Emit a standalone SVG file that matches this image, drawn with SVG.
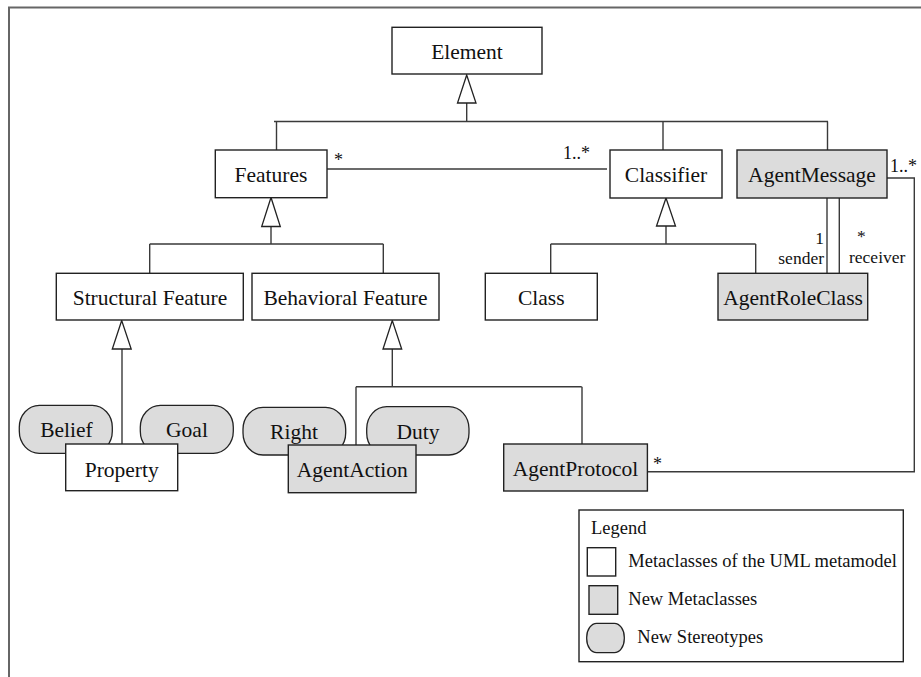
<svg xmlns="http://www.w3.org/2000/svg" width="921" height="677" viewBox="0 0 921 677">
<style>
text{font-family:"Liberation Serif","Times New Roman",serif;fill:#111}
.t{font-size:21.5px;text-anchor:middle}
.s{font-size:18px}
.r{font-size:17.5px}
.box{fill:#fff;stroke:#222;stroke-width:1.4}
.new{fill:#dcdcdc;stroke:#222;stroke-width:1.4}
.pill{fill:#dcdcdc;stroke:#222;stroke-width:1.3}
.ln{fill:none;stroke:#3a3a3a;stroke-width:1.4}
.tri{fill:#fff;stroke:#222;stroke-width:1.3}
</style>
<rect x="0" y="0" width="921" height="677" fill="#fff"/>
<path d="M9,677 V7.5 H921" fill="none" stroke="#666" stroke-width="2"/>

<g id="connectors">
  <!-- Element generalization -->
  <path class="ln" d="M466.7,103 V121.5 M274,121.5 H828 M276.5,121.5 V150 M663,121.5 V150 M827.5,121.5 V150"/>
  <polygon class="tri" points="466.7,75 457.5,103 476,103"/>
  <!-- Features - Classifier association -->
  <path class="ln" d="M327,169 H607"/>
  <text class="s" x="334" y="166">*</text>
  <text class="s" x="563" y="159">1..*</text>
  <!-- Features generalization -->
  <path class="ln" d="M271,226.5 V244 M149.7,244 H383.3 M149.7,244 V273 M383.3,244 V273"/>
  <polygon class="tri" points="271,197.5 261.7,226.5 280.3,226.5"/>
  <!-- Classifier generalization -->
  <path class="ln" d="M666,226 V244 M550.7,244 H755.7 M550.7,244 V273 M755.7,244 V273"/>
  <polygon class="tri" points="666,198 656.5,226 675.5,226"/>
  <!-- AgentMessage - AgentRoleClass -->
  <path class="ln" d="M827,198 V273 M839.3,198 V273"/>
  <text class="r" x="824" y="243.5" text-anchor="end">1</text>
  <text class="r" x="824" y="264" text-anchor="end">sender</text>
  <text class="r" x="857" y="242">*</text>
  <text class="r" x="849" y="262.5">receiver</text>
  <!-- AgentMessage - AgentProtocol -->
  <path class="ln" d="M887,178 H914.3 V471.7 H647.5"/>
  <text class="s" x="890" y="172">1..*</text>
  <text class="s" x="653" y="470">*</text>
  <!-- Structural Feature generalization -->
  <path class="ln" d="M122,349 V444"/>
  <polygon class="tri" points="121.7,320.5 112.3,349 131.2,349"/>
  <!-- Behavioral Feature generalization -->
  <path class="ln" d="M392.3,349 V386.7 M356,386.7 H581.7 M356,386.7 V445 M582,386.7 V444"/>
  <polygon class="tri" points="392.3,320.5 383,349 401.7,349"/>
</g>

<g id="Element"><rect class="box" x="392" y="27.3" width="150" height="46.7"/><text class="t" x="467" y="59">Element</text></g>
<g id="Features"><rect class="box" x="215.3" y="150" width="111.7" height="47.7"/><text class="t" x="271" y="182">Features</text></g>
<g id="Classifier"><rect class="box" x="610" y="150" width="112" height="48"/><text class="t" x="666" y="182">Classifier</text></g>
<g id="AgentMessage"><rect class="new" x="737" y="150" width="150" height="48"/><text class="t" x="812" y="182">AgentMessage</text></g>
<g id="StructuralFeature"><rect class="box" x="56.3" y="273.3" width="187" height="46.7"/><text class="t" x="150" y="305">Structural Feature</text></g>
<g id="BehavioralFeature"><rect class="box" x="252" y="273.3" width="187" height="46.7"/><text class="t" x="345.5" y="305">Behavioral Feature</text></g>
<g id="Class"><rect class="box" x="485.3" y="273.3" width="112" height="46.7"/><text class="t" x="541.3" y="305">Class</text></g>
<g id="AgentRoleClass"><rect class="new" x="718" y="273.3" width="149.7" height="46.7"/><text class="t" x="793" y="305">AgentRoleClass</text></g>

<g id="Belief"><rect class="pill" x="19.3" y="405.3" width="93" height="48" rx="20" ry="22"/><text class="t" x="66.5" y="437">Belief</text></g>
<g id="Goal"><rect class="pill" x="140.3" y="405.3" width="93" height="48" rx="20" ry="22"/><text class="t" x="187" y="437">Goal</text></g>
<g id="Property"><rect class="box" x="65.7" y="444" width="112" height="46.7"/><text class="t" x="121.7" y="476.5">Property</text></g>
<g id="Right"><rect class="pill" x="243" y="407.3" width="102.7" height="47.7" rx="20" ry="22"/><text class="t" x="294" y="439">Right</text></g>
<g id="Duty"><rect class="pill" x="366.7" y="406.7" width="102.3" height="48.3" rx="20" ry="22"/><text class="t" x="418" y="439">Duty</text></g>
<g id="AgentAction"><rect class="new" x="288.3" y="445" width="127.7" height="47.7"/><text class="t" x="352.2" y="476.5">AgentAction</text></g>
<g id="AgentProtocol"><rect class="new" x="503.7" y="444" width="143.7" height="47"/><text class="t" x="575.5" y="476">AgentProtocol</text></g>

<g id="Legend">
  <rect x="579" y="510" width="324.3" height="151.7" fill="#fff" stroke="#222" stroke-width="1.4"/>
  <text class="s" x="591" y="533.5" style="font-size:18.5px">Legend</text>
  <rect class="box" x="587.3" y="547.7" width="28.4" height="28.3"/>
  <text class="s" x="628.3" y="566.5" style="font-size:18.5px">Metaclasses of the UML metamodel</text>
  <rect class="new" x="589" y="585.7" width="28.7" height="28.6"/>
  <text class="s" x="628.3" y="604.5" style="font-size:18.5px">New Metaclasses</text>
  <rect class="pill" x="586.7" y="623.3" width="37.6" height="29.4" rx="10" ry="14"/>
  <text class="s" x="637.3" y="642.7" style="font-size:18.5px">New Stereotypes</text>
</g>
</svg>
